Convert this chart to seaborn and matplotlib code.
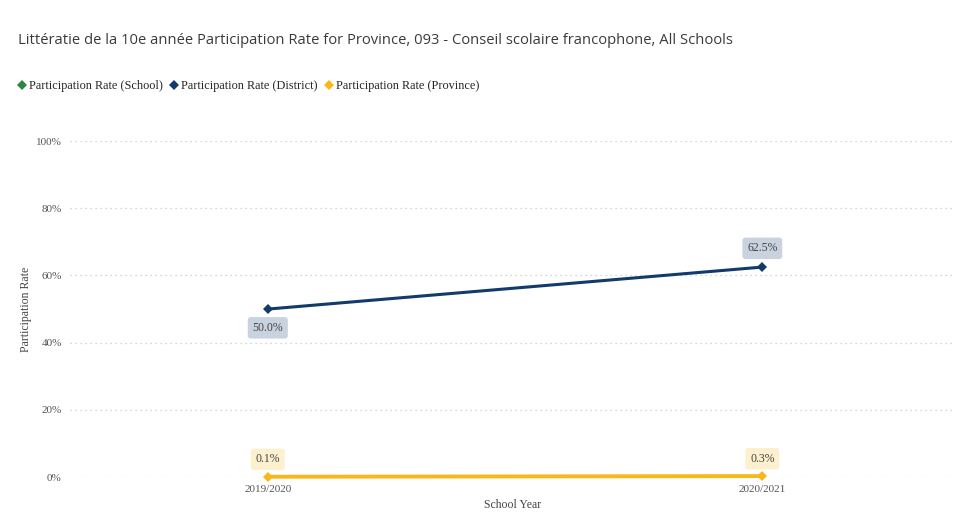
import matplotlib
matplotlib.use("Agg")
import matplotlib.pyplot as plt
from matplotlib.lines import Line2D
import pandas as pd
import seaborn as sns

# chart values
years = ["2019/2020", "2020/2021"]
district_rate = [0.500, 0.625]
province_rate = [0.001, 0.003]
series_names = ["Participation Rate (School)", "Participation Rate (District)",
                "Participation Rate (Province)"]
y_ticks = [0, 0.2, 0.4, 0.6, 0.8, 1.0]

colors = {"Participation Rate (School)": "#2E8540",
          "Participation Rate (District)": "#123B6B",
          "Participation Rate (Province)": "#F8B81C"}
label_bg = {"Participation Rate (District)": "#C9D3DF",
            "Participation Rate (Province)": "#FDF0CF"}

df = pd.concat([
    pd.DataFrame({"year": years, "rate": district_rate, "series": series_names[1]}),
    pd.DataFrame({"year": years, "rate": province_rate, "series": series_names[2]}),
])

sns.set_style("white")
fig = plt.figure(figsize=(9.59, 5.13), dpi=100)
ax = fig.add_axes([0.073, 0.070, 0.923, 0.655])

for name in series_names[1:]:
    sub = df[df["series"] == name]
    lw = 2.8 if name == series_names[2] else 2.2
    sns.lineplot(data=sub, x="year", y="rate", ax=ax, color=colors[name],
                 linewidth=lw, marker="D", markersize=5, markeredgewidth=0,
                 legend=False, clip_on=False, zorder=3)

serif = "Liberation Serif"
# data labels
for name, offsets in [(series_names[1], [-13.5, 13.5]), (series_names[2], [12.5, 12.5])]:
    sub = df[df["series"] == name].reset_index(drop=True)
    for i, row in sub.iterrows():
        ax.annotate(f"{row['rate'] * 100:.1f}%", (i, row["rate"]),
                    xytext=(0, offsets[i]), textcoords="offset points",
                    ha="center", va="center", fontsize=8.5, family=serif,
                    color="#444444", zorder=4,
                    bbox=dict(boxstyle="round,pad=0.4,rounding_size=0.25",
                              fc=label_bg[name], ec="none"))

ax.set_xlim(-0.4, 1.39)
ax.set_ylim(0, 1.0)
ax.set_yticks(y_ticks)
ax.set_yticklabels([f"{int(v * 100)}%" for v in y_ticks])
ax.yaxis.grid(True, linestyle=(0, (1, 3)), color="#C8C8C8", linewidth=0.9)
ax.xaxis.grid(False)
for s in ax.spines.values():
    s.set_visible(False)
ax.tick_params(axis="both", length=0, labelsize=8, labelcolor="#555555", pad=6)
for lab in ax.get_xticklabels() + ax.get_yticklabels():
    lab.set_family(serif)
ax.set_xlabel("School Year", family=serif, fontsize=8.5, color="#444444", labelpad=3)
ax.set_ylabel("Participation Rate", family=serif, fontsize=8.5, color="#444444", labelpad=3)

fig.text(0.019, 0.922, "Littératie de la 10e année Participation Rate for Province, 093 - "
         "Conseil scolaire francophone, All Schools",
         family="Open Sans", fontsize=10.6, color="#3a3a3a", va="center")

handles = [Line2D([], [], marker="D", linestyle="none", markersize=4.8,
                  markeredgewidth=0, color=colors[n]) for n in series_names]
fig.legend(handles, series_names, loc="center left", bbox_to_anchor=(0.019, 0.832),
           ncol=3, frameon=False, handlelength=0.6, handletextpad=0.3,
           columnspacing=0.6, borderaxespad=0, borderpad=0,
           prop={"family": serif, "size": 8.8})

fig.savefig("out.png", dpi=100)
